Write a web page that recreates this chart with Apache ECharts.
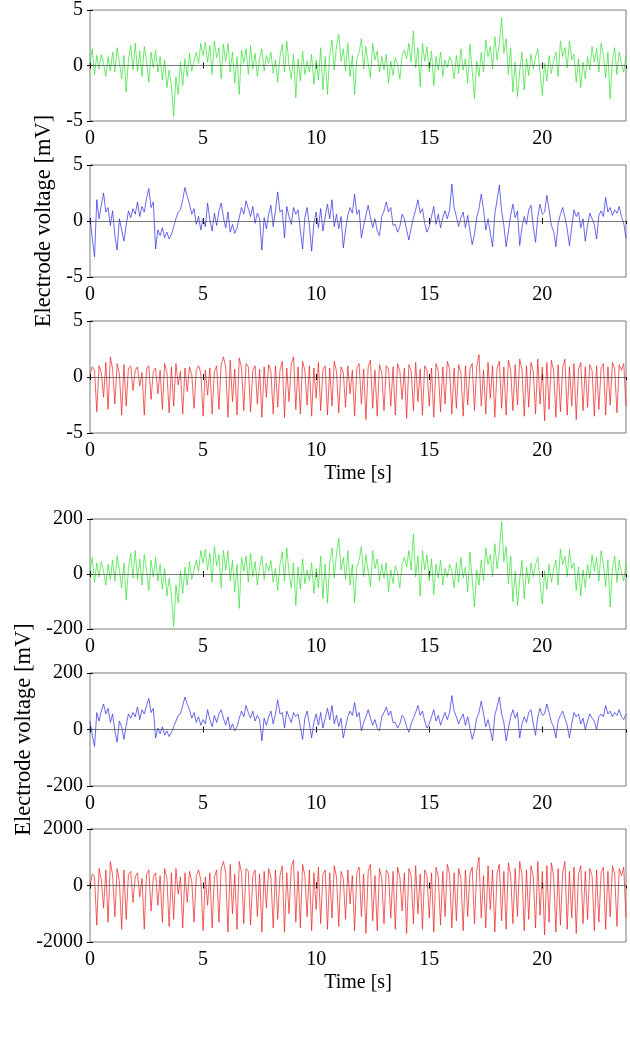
<!DOCTYPE html>
<html><head><meta charset="utf-8">
<script src="https://cdn.jsdelivr.net/npm/echarts@6/dist/echarts.min.js"></script>
<style>html,body{margin:0;padding:0;background:#fff}#c{width:630px;height:1037px}</style>
</head><body><div id="c"></div>
<script>
// sampling step of the traces (s)
const DT = 0.1;
const xTicks = [0, 5, 10, 15, 20];
const xMax = 23.7;
const yTicksTop = [-5, 0, 5];
const yTicksMid = [-200, 0, 200];
const yTicksBot = [-2000, 0, 2000];
const xName = "Time [s]";
const yName = "Electrode voltage [mV]";

const green1 = [
0.2,1.5,-0.8,0.9,-0.3,1.0,0.2,-1.0,0.8,-0.5,
1.2,-0.6,1.6,0.3,-1.2,0.9,-2.4,0.5,1.8,-0.4,
2.0,-0.5,1.3,-1.0,1.7,0.4,-1.5,1.2,-0.2,1.4,
-0.6,0.8,-1.3,0.5,-2.0,-0.4,-1.8,-4.6,-1.0,-2.6,
0.3,-1.8,0.6,-1.0,1.1,-0.5,0.4,1.2,0.2,2.0,
0.9,2.1,0.3,1.8,-0.8,2.2,0.7,1.6,-1.2,1.9,
0.4,2.0,-0.6,1.2,-1.6,0.8,-2.6,1.4,0.2,1.5,
-0.8,1.8,-0.3,1.1,-1.0,0.6,1.5,-0.5,0.9,0.2,
1.2,-0.7,0.5,-1.5,0.8,1.9,-0.6,2.2,0.1,-1.2,
1.0,-2.9,0.6,-1.4,1.3,-0.8,0.4,-0.6,1.0,-1.7,
0.5,-1.3,1.6,-2.2,0.8,-2.6,1.0,2.3,-0.4,1.8,
2.8,0.4,1.5,-0.5,2.0,-1.0,0.9,-2.6,0.6,1.2,
2.4,-0.3,1.7,0.2,-1.1,2.0,0.5,1.3,-0.6,0.8,
-0.4,1.0,-1.6,0.4,-0.9,0.7,0.1,-1.2,0.9,1.4,
0.6,2.0,0.3,3.1,-0.2,1.6,-1.9,2.0,0.4,1.7,
-0.6,1.3,-1.8,0.8,-0.4,1.2,-1.0,0.5,-0.2,0.8,
0.3,-1.2,0.9,-0.7,1.5,-0.4,0.6,-1.6,1.9,-0.5,
-3.0,0.4,-1.0,1.2,-0.6,2.3,0.8,1.7,-0.3,2.6,
0.5,2.0,4.3,1.1,2.4,-0.8,1.6,-2.4,0.3,-2.8,
-0.5,1.2,-2.2,0.6,-0.9,1.0,-0.3,0.8,1.5,-0.6,
-2.7,0.2,-1.4,0.9,-0.7,0.4,1.2,-1.0,2.2,0.8,
1.6,-0.2,2.2,0.5,1.0,-1.5,0.6,-2.0,0.3,-1.2,
0.8,-0.4,1.7,0.3,1.5,-0.6,2.0,0.9,-1.1,1.2,
-3.0,0.5,1.6,-0.8,1.2,0.1,-0.6,0.9];

const blue1 = [
0.3,-1.5,-3.2,1.9,0.2,1.4,2.5,0.8,1.2,-0.4,
0.9,-1.3,-2.6,0.2,-0.8,-1.8,-0.4,0.9,0.3,1.1,
0.6,1.7,0.4,1.3,0.8,2.0,2.9,1.2,1.7,-2.5,
-0.8,-1.3,-0.6,-1.5,-1.0,-1.6,-1.2,-0.5,0.2,0.8,
1.0,1.9,3.0,2.2,1.5,0.6,1.1,-0.3,0.4,-0.8,
0.2,-0.5,1.6,0.1,-0.9,0.7,-0.4,0.9,1.6,0.3,
-0.6,0.8,-1.0,-0.3,-1.1,-0.6,0.3,1.2,0.6,1.8,
1.1,0.4,1.3,-0.2,0.7,0.2,-2.6,0.3,-0.7,0.6,
1.4,-0.5,0.9,2.6,0.8,1.0,-1.5,1.3,0.4,-0.3,
1.2,0.6,1.0,-0.8,-2.5,0.3,1.2,-0.4,-2.7,-0.2,
0.8,-0.6,1.1,-0.9,0.4,1.5,0.2,1.9,-0.5,0.6,
-0.7,0.4,-2.4,-0.8,0.5,1.2,0.7,2.4,0.6,1.0,
-1.5,-0.4,0.5,1.4,0.3,-0.6,0.2,-0.9,-1.3,0.4,
0.9,1.7,0.8,1.2,-0.4,-0.3,-1.0,-0.5,0.6,0.2,
-0.8,-1.7,-0.6,0.3,1.0,1.9,0.7,1.1,-0.2,-1.0,
-0.5,0.4,1.3,-0.3,0.6,-0.6,0.3,0.9,0.2,1.0,
3.3,1.2,0.4,-0.5,0.3,0.8,-0.6,0.5,-0.9,-2.1,
-1.2,0.3,1.1,2.4,1.0,-0.8,0.2,-1.1,-2.3,0.6,
1.9,3.2,0.9,-0.4,-2.3,-0.9,0.5,1.5,0.3,0.9,
-2.2,-0.6,0.4,-0.3,1.0,1.4,-0.5,-1.9,0.4,1.5,
0.6,0.8,2.3,1.0,-0.4,-0.9,-2.3,-0.2,0.6,1.2,
0.3,-0.7,-2.2,-0.5,1.0,0.4,0.8,-0.6,0.2,-1.8,
-0.4,0.7,0.2,-0.3,-1.6,0.5,0.9,0.4,2.1,0.8,
1.2,0.5,1.0,0.7,1.3,0.4,-0.2,-1.5];

const red1 = [
0.2,0.9,0.6,-3.1,1.0,0.4,-1.8,1.3,-2.9,1.8,
0.7,-2.4,1.2,0.3,-3.4,1.1,-2.6,0.8,1.0,-1.2,
0.6,0.9,-0.8,0.4,-3.4,0.7,1.0,-2.0,0.5,0.8,
-1.5,0.6,-2.9,1.2,0.4,-3.2,0.9,-2.6,1.2,-0.7,
0.5,-3.3,0.8,-1.3,0.9,0.2,-2.8,0.6,1.0,0.3,
-3.5,0.6,-1.6,0.8,-3.3,0.5,1.0,-2.9,1.1,1.8,
0.9,-3.6,1.5,-2.2,0.7,-3.4,1.7,0.8,-3.0,1.2,
0.9,-3.1,0.6,1.0,-2.4,0.7,-3.6,0.9,-1.8,1.1,
0.5,-3.3,1.0,-2.7,0.6,1.4,-3.6,0.8,-2.2,1.2,
1.8,-2.9,0.9,-3.3,1.4,0.6,-2.5,1.0,-3.5,0.8,
-1.9,1.3,-3.0,0.7,1.0,-3.4,0.8,-2.6,1.4,0.5,
-3.2,0.9,0.4,-2.7,1.0,-1.5,0.6,-3.5,0.8,1.2,
-2.4,0.7,-3.8,0.9,1.5,-2.8,0.6,-3.5,1.1,0.4,
-3.0,1.0,0.7,-2.6,0.9,-3.4,1.2,0.5,-2.0,0.8,
-3.7,1.1,0.6,-3.0,1.3,-2.2,0.7,-3.4,1.0,0.6,
-2.6,0.8,-3.6,1.2,0.5,-3.1,0.9,-2.4,1.4,0.7,
-3.3,0.8,-2.8,1.1,0.4,-3.5,1.0,-2.5,0.7,1.2,
-3.0,0.9,2.0,-2.6,0.6,-3.3,1.3,-1.9,1.0,-3.6,
0.8,1.4,-2.8,0.9,-3.4,1.5,0.6,-3.0,1.1,-2.5,
1.6,0.7,-3.5,1.0,-2.7,1.3,0.5,-3.3,1.6,-2.4,
0.9,-3.9,1.3,-2.9,1.5,0.6,-3.6,1.1,-3.1,0.8,
1.6,-3.4,0.9,-2.6,1.2,-3.8,0.7,1.3,-3.0,0.9,
-2.7,1.1,0.6,-3.5,1.0,-2.9,0.8,1.2,-3.4,0.9,
-2.5,1.3,0.7,-3.2,1.1,0.6,1.2,-2.6];

const green2 = [
10,60,-30,40,-10,45,10,-40,35,-20,
50,-25,65,15,-50,40,-95,20,75,-15,
85,-20,55,-40,70,15,-60,50,-10,60,
-25,35,-55,20,-80,-15,-75,-190,-40,-105,
10,-70,25,-40,45,-20,15,50,10,85,
40,90,15,75,-30,100,30,70,-50,85,
15,85,-25,50,-65,35,-125,60,10,65,
-30,75,-10,45,-40,25,65,-20,40,10,
50,-30,20,-60,35,80,-25,95,5,-50,
40,-115,25,-55,55,-35,15,-25,40,-70,
20,-50,65,-90,35,-105,40,95,-15,75,
130,15,60,-20,85,-40,35,-105,25,50,
100,-10,70,10,-45,85,20,55,-25,35,
-15,40,-65,15,-35,30,5,-50,35,60,
25,85,15,145,-10,65,-80,85,15,70,
-25,55,-75,35,-15,50,-40,20,-10,35,
10,-50,40,-30,60,-15,25,-65,80,-20,
-120,15,-40,50,-25,95,35,70,-10,110,
20,85,190,45,100,-35,65,-100,10,-115,
-20,50,-90,25,-35,40,-10,35,60,-25,
-110,10,-55,35,-30,15,50,-40,90,35,
65,-10,90,20,40,-60,25,-80,15,-50,
35,-15,70,10,60,-25,85,35,-45,50,
-120,20,65,-30,50,5,-25,40];

const blue2 = [
30,-20,-60,60,30,65,90,55,75,25,
55,-5,-45,30,10,-35,15,55,40,60,
45,80,35,70,55,85,110,60,75,-30,
5,-15,10,-20,-5,-25,-10,10,30,50,
55,85,115,90,70,40,60,25,45,15,
35,20,70,35,10,50,25,55,70,40,
15,45,0,20,-5,10,40,65,45,85,
60,40,65,30,50,35,-40,40,15,45,
65,20,55,105,55,60,5,65,45,25,
60,45,55,10,-35,40,65,20,-30,25,
55,15,60,5,40,75,35,85,20,50,
10,40,-30,10,45,65,50,95,45,60,
-5,25,45,70,40,15,35,5,-5,45,
60,80,50,65,25,25,5,20,50,40,
10,-10,20,40,60,85,50,65,30,5,
20,45,70,30,50,15,40,60,35,60,
120,65,45,20,40,55,15,45,5,-35,
-5,40,60,100,55,10,35,0,-40,50,
80,115,55,25,-40,5,45,70,40,60,
-30,20,45,25,60,70,20,-20,45,75,
50,55,90,60,25,10,-30,30,50,65,
40,15,-30,20,60,45,55,20,40,0,
30,55,40,30,0,45,55,45,85,55,
65,45,60,50,70,45,35,55];

const red2 = [
0,400,300,-1400,600,200,-800,550,-1300,850,
350,-1100,600,150,-1550,550,-1200,400,500,-600,
300,450,-400,250,-1550,400,550,-900,300,450,
-700,350,-1300,600,250,-1450,450,-1200,600,-300,
300,-1500,450,-600,500,150,-1300,350,550,200,
-1600,300,-700,450,-1500,300,550,-1300,600,850,
450,-1650,750,-1000,400,-1550,850,450,-1350,600,
500,-1400,350,550,-1100,400,-1650,500,-800,600,
300,-1500,550,-1200,350,700,-1650,450,-1000,650,
900,-1300,500,-1500,750,350,-1100,550,-1600,450,
-850,650,-1350,400,550,-1550,450,-1150,700,300,
-1450,500,250,-1200,550,-650,350,-1600,450,650,
-1100,400,-1700,500,750,-1250,350,-1600,600,250,
-1350,550,400,-1150,500,-1550,650,300,-900,450,
-1700,600,350,-1350,700,-1000,400,-1550,550,350,
-1150,450,-1650,650,300,-1400,500,-1100,750,400,
-1500,450,-1250,600,250,-1600,550,-1100,400,650,
-1350,500,1000,-1150,350,-1500,700,-850,550,-1650,
450,750,-1250,500,-1550,800,350,-1350,600,-1100,
850,400,-1600,550,-1200,700,300,-1500,850,-1050,
500,-1750,700,-1300,800,350,-1650,600,-1400,450,
850,-1550,500,-1150,650,-1700,400,700,-1350,500,
-1200,600,350,-1600,550,-1300,450,650,-1550,500,
-1100,700,400,-1450,600,350,650,-1150];

const panels = [
  {data: green1, color: '#2fe02f', yt: yTicksTop, top: 10, h: 111},
  {data: blue1,  color: '#2a2ae0', yt: yTicksTop, top: 165, h: 112, yName: true, gap: 31},
  {data: red1,   color: '#ec1c1c', yt: yTicksTop, top: 321, h: 112, xName: true},
  {data: green2, color: '#2fe02f', yt: yTicksMid, top: 519, h: 110},
  {data: blue2,  color: '#2a2ae0', yt: yTicksMid, top: 673, h: 113, yName: true, gap: 52},
  {data: red2,   color: '#ec1c1c', yt: yTicksBot, top: 829, h: 113, xName: true}
];

const FONT = 'Liberation Serif';
const grid = [], xAxis = [], yAxis = [], series = [];
const tickStyle = {show: true, inside: true, length: 3, lineStyle: {color: '#000', width: 1}};
panels.forEach((p, i) => {
  grid.push({left: 90, right: 4, top: p.top, height: p.h, show: true, borderColor: '#7a7a7a', borderWidth: 1, backgroundColor: 'transparent'});
  const xBase = {gridIndex: i, type: 'value', min: xTicks[0], max: xMax, interval: xTicks[1] - xTicks[0],
    axisLine: {show: false}, splitLine: {show: false}, axisTick: tickStyle};
  xAxis.push(Object.assign({}, xBase, {position: 'bottom',
    axisLabel: {show: true, showMaxLabel: false, margin: 8, fontFamily: FONT, fontSize: 20, color: '#000'},
    name: p.xName ? xName : '', nameLocation: 'middle', nameGap: 31,
    nameTextStyle: {fontFamily: FONT, fontSize: 20, color: '#000'}}));
  xAxis.push(Object.assign({}, xBase, {position: 'top', axisLabel: {show: false}}));
  const yBase = {gridIndex: i, type: 'value', min: p.yt[0], max: p.yt[2], interval: p.yt[1] - p.yt[0],
    axisLine: {show: false}, splitLine: {show: false}, axisTick: tickStyle};
  yAxis.push(Object.assign({}, yBase, {position: 'left',
    axisLabel: {show: true, margin: 7, fontFamily: FONT, fontSize: 20, color: '#000', formatter: v => String(v)},
    name: p.yName ? yName : '', nameLocation: 'middle', nameGap: p.gap || 30, nameRotate: 90,
    nameTextStyle: {fontFamily: FONT, fontSize: 22.5, color: '#000'}}));
  yAxis.push(Object.assign({}, yBase, {position: 'right', axisLabel: {show: false}}));
  series.push({type: 'line', xAxisIndex: 2 * i, yAxisIndex: 2 * i,
    data: p.data.map((v, k) => [k * DT, v]),
    showSymbol: false, symbol: 'none', animation: false, silent: true,
    lineStyle: {color: p.color, width: 0.7},
    markLine: {silent: true, symbol: 'none', label: {show: false}, animation: false,
      lineStyle: {color: '#555', width: 0.8, type: 'solid'}, data: [{yAxis: 0}]}
  });
});

const chart = echarts.init(document.getElementById('c'), null, {renderer: 'canvas'});
chart.setOption({animation: false, backgroundColor: '#fff', grid, xAxis, yAxis, series});
</script>
</body></html>
